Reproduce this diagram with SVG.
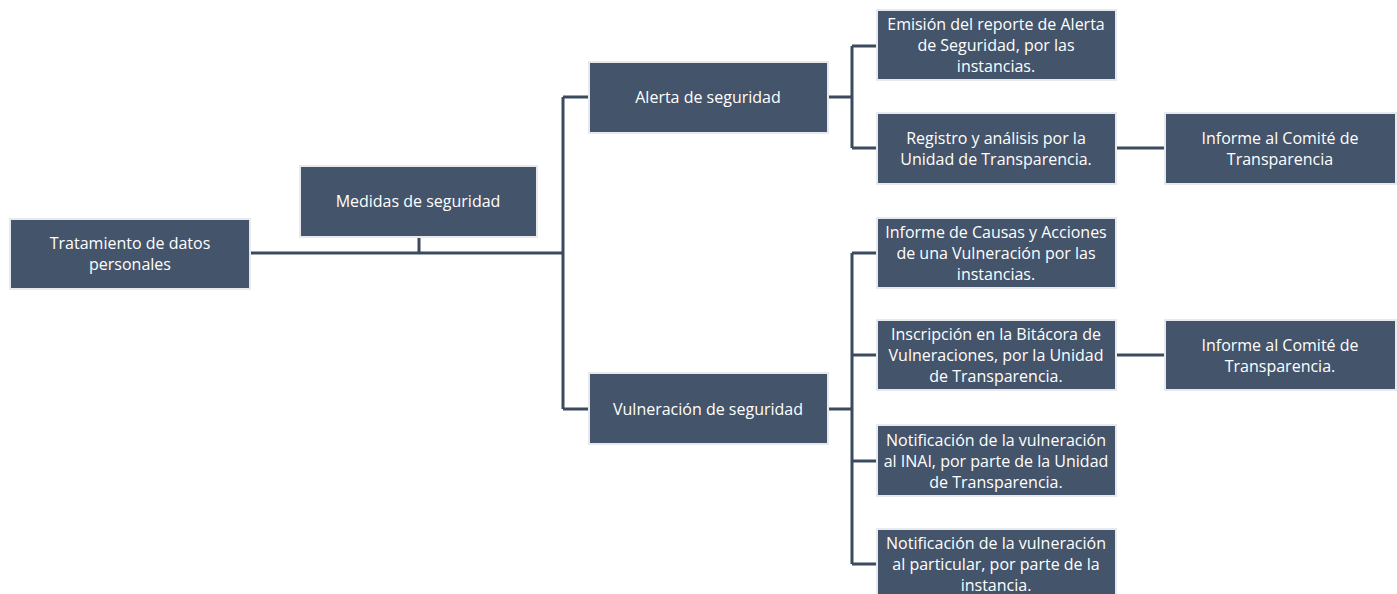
<svg xmlns="http://www.w3.org/2000/svg" width="1397" height="594" viewBox="0 0 1397 594">
<style>
.box{fill:#44546A;stroke:#E7E9EC;stroke-width:2}
.t{font-family:"Open Sans","Liberation Sans",Arial,sans-serif;font-size:16px;fill:#FFFFFF;text-anchor:middle}
.c{fill:none;stroke:#3B4A5E;stroke-width:3}
</style>
<rect width="1397" height="594" fill="#FFFFFF"/>
<g id="connectors">
<path class="c" d="M250 253 H563 M419 237 V253 M563 97 V409 M563 97 H589 M563 409 H589"/>
<path class="c" d="M828 97 H852 M852 46 V148 M852 46 H877 M852 148 H877 M1116 148 H1165"/>
<path class="c" d="M828 409 H852 M852 253 V564 M852 253 H877 M852 355 H877 M852 461 H877 M852 564 H877 M1116 355 H1165"/>
</g>
<g id="n1"><rect class="box" x="10" y="219" width="240" height="70"/><text class="t" x="130" y="249">Tratamiento de datos</text><text class="t" x="130" y="270">personales</text></g>
<g id="n2"><rect class="box" x="300" y="166" width="237" height="71"/><text class="t" x="418" y="207">Medidas de seguridad</text></g>
<g id="n3"><rect class="box" x="589" y="62" width="239" height="71"/><text class="t" x="708" y="103">Alerta de seguridad</text></g>
<g id="n4"><rect class="box" x="589" y="373" width="239" height="71"/><text class="t" x="708" y="415">Vulneración de seguridad</text></g>
<g id="n5"><rect class="box" x="877" y="10" width="239" height="70"/><text class="t" x="996" y="30">Emisión del reporte de Alerta</text><text class="t" x="996" y="51">de Seguridad, por las</text><text class="t" x="996" y="72">instancias.</text></g>
<g id="n6"><rect class="box" x="877" y="113" width="239" height="71"/><text class="t" x="996" y="144">Registro y análisis por la</text><text class="t" x="996" y="165">Unidad de Transparencia.</text></g>
<g id="n7"><rect class="box" x="1165" y="113" width="231" height="71"/><text class="t" x="1280" y="144">Informe al Comité de</text><text class="t" x="1280" y="165">Transparencia</text></g>
<g id="n8"><rect class="box" x="877" y="218" width="239" height="70"/><text class="t" x="996" y="238">Informe de Causas y Acciones</text><text class="t" x="996" y="259">de una Vulneración por las</text><text class="t" x="996" y="280">instancias.</text></g>
<g id="n9"><rect class="box" x="877" y="320" width="239" height="70"/><text class="t" x="996" y="340">Inscripción en la Bitácora de</text><text class="t" x="996" y="361">Vulneraciones, por la Unidad</text><text class="t" x="996" y="382">de Transparencia.</text></g>
<g id="n10"><rect class="box" x="1165" y="320" width="231" height="70"/><text class="t" x="1280" y="351">Informe al Comité de</text><text class="t" x="1280" y="372">Transparencia.</text></g>
<g id="n11"><rect class="box" x="877" y="425" width="239" height="71"/><text class="t" x="996" y="446">Notificación de la vulneración</text><text class="t" x="996" y="467">al INAI, por parte de la Unidad</text><text class="t" x="996" y="488">de Transparencia.</text></g>
<g id="n12"><rect class="box" x="877" y="529" width="239" height="72"/><text class="t" x="996" y="549">Notificación de la vulneración</text><text class="t" x="996" y="570">al particular, por parte de la</text><text class="t" x="996" y="591">instancia.</text></g>
</svg>
